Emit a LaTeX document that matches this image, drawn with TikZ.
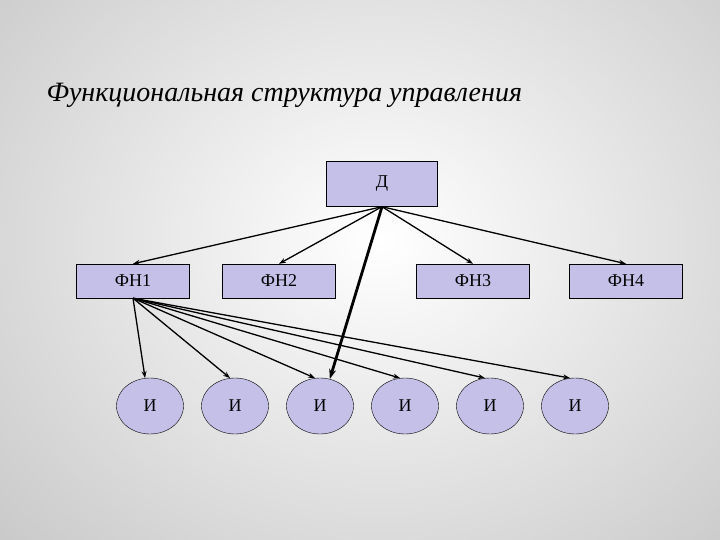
\documentclass[tikz,border=0pt]{standalone}
\usepackage{fontspec}
\setmainfont{Liberation Serif}
\usetikzlibrary{arrows.meta, shapes.geometric}
\definecolor{boxfill}{RGB}{196,192,232}
\tikzset{
    unit/.style={rectangle, draw, fill=boxfill, minimum width=113pt, minimum height=34pt, inner sep=0pt, font=\fontsize{18}{20}\selectfont},
    head/.style={unit, minimum width=111pt, minimum height=45pt},
    worker/.style={ellipse, draw, fill=boxfill, minimum width=67pt, minimum height=56pt, inner sep=0pt, font=\fontsize{18}{20}\selectfont},
    arrow/.style={-{Stealth[length=7pt, width=5pt]}, line width=1.3pt},
    boldarrow/.style={-{Stealth[length=10pt, width=7pt]}, line width=2.8pt},
}

\begin{document}
\begin{tikzpicture}[x=1pt, y=-1pt]
    \useasboundingbox (0,0) rectangle (720,540);
    \begin{scope}
        \clip (0,0) rectangle (720,540);
        \shade[inner color=white, outer color=gray!42] (-140,-200) rectangle (900,680);
    \end{scope}
    \node[anchor=west, font=\fontsize{28}{32}\selectfont\itshape] (title) at (43,95) {Функциональная структура управления};
    % director and functional units
    \node[head] (d) at (382,184) {Д};
    \node[unit] (fn1) at (133,281) {ФН1};
    \node[unit] (fn2) at (279,281) {ФН2};
    \node[unit] (fn3) at (473,281) {ФН3};
    \node[unit] (fn4) at (626,281) {ФН4};
    % performers
    \foreach \n/\x in {1/150, 2/235, 3/320, 4/405, 5/490, 6/575}
        \node[worker] (i\n) at (\x,406) {И};
    \foreach \n in {1,...,4}
        \draw[arrow] (d.south) -- (fn\n.north);
    \foreach \n in {1,...,6}
        \draw[arrow] (fn1.south) -- (i\n.100);
    \draw[boldarrow] (d.south) -- (i3.70);
\end{tikzpicture}
\end{document}
